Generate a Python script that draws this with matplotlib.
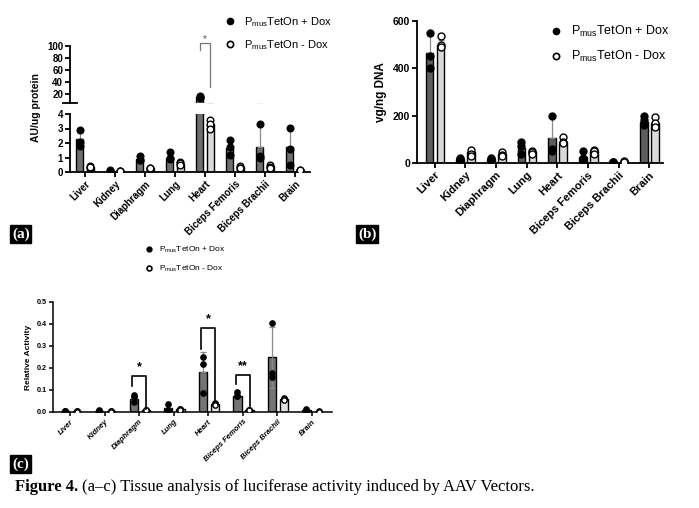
import matplotlib
matplotlib.use('Agg')
import matplotlib.pyplot as plt
import numpy as np
from matplotlib.lines import Line2D

plt.rcParams['font.family'] = ['Liberation Sans', 'DejaVu Sans']
plt.rcParams['mathtext.default'] = 'regular'

tissues = ['Liver', 'Kidney', 'Diaphragm', 'Lung', 'Heart',
           'Biceps Femoris', 'Biceps Brachii', 'Brain']
lab_dox = r'P$_{mus}$TetOn + Dox'
lab_nodox = r'P$_{mus}$TetOn - Dox'

# (a) luciferase, AU/ug protein
a_dox = [2.25, 0.1, 0.9, 1.0, 15.5, 1.65, 1.75, 1.7]
a_dox_err = [0.5, 0.02, 0.15, 0.3, 2.0, 0.5, 1.55, 1.3]
a_dox_pts = [[2.9, 2.05, 1.8], [0.1, 0.08, 0.12], [1.1, 0.85, 0.8], [1.35, 0.95, 0.9],
             [17.0, 15.5, 13.0], [2.2, 1.7, 1.2], [3.3, 1.0, 1.1], [3.05, 1.6, 0.5]]
a_nodox = [0.35, 0.08, 0.25, 0.55, 3.3, 0.35, 0.4, 0.12]
a_nodox_err = [0.05, 0.02, 0.04, 0.1, 0.3, 0.06, 0.08, 0.03]
a_nodox_pts = [[0.4, 0.3, 0.35], [0.1, 0.07, 0.08], [0.3, 0.22, 0.25], [0.7, 0.6, 0.45],
               [3.6, 3.3, 3.0], [0.4, 0.3, 0.3], [0.45, 0.35, 0.3], [0.15, 0.1, 0.12]]

# (b) vector genomes, vg/ng DNA
b_dox = [465, 18, 18, 65, 105, 25, 5, 175]
b_dox_err = [75, 5, 5, 25, 95, 20, 1, 20]
b_dox_pts = [[550, 400, 450], [22, 15, 12], [22, 15, 12], [90, 70, 40],
             [200, 60, 50], [50, 20, 10], [5, 5, 4], [200, 180, 160]]
b_nodox = [500, 45, 38, 45, 90, 50, 5, 170]
b_nodox_err = [20, 12, 10, 5, 15, 8, 3, 20]
b_nodox_pts = [[535, 500, 490], [55, 40, 30], [48, 35, 28], [50, 45, 40],
               [110, 90, 85], [55, 50, 40], [8, 5, 3], [195, 170, 150]]

# (c) relative activity
c_dox = [0.005, 0.006, 0.058, 0.018, 0.183, 0.075, 0.248, 0.008]
c_dox_err = [0.001, 0.001, 0.015, 0.012, 0.088, 0.012, 0.137, 0.004]
c_dox_lo = [0, 0, 0, 0, 0, 0, 0.137, 0]
c_dox_pts = [[0.006, 0.005, 0.004], [0.007, 0.006, 0.005], [0.078, 0.068, 0.045],
             [0.035, 0.01, 0.01], [0.25, 0.22, 0.085], [0.092, 0.075, 0.072],
             [0.405, 0.16, 0.178], [0.012, 0.006, 0.005]]
c_nodox = [0.003, 0.003, 0.008, 0.012, 0.038, 0.008, 0.058, 0.002]
c_nodox_err = [0.001, 0.001, 0.002, 0.003, 0.006, 0.002, 0.006, 0.001]
c_nodox_pts = [[0.003, 0.003, 0.002], [0.003, 0.003, 0.002], [0.01, 0.008, 0.007],
               [0.015, 0.012, 0.01], [0.042, 0.035, 0.03], [0.009, 0.008, 0.007],
               [0.065, 0.06, 0.055], [0.003, 0.002, 0.001]]

W, H = 699, 508
fig = plt.figure(figsize=(W / 100, H / 100), dpi=100)


def px_axes(l, t, r, b):
    return fig.add_axes([l / W, 1 - b / H, (r - l) / W, (b - t) / H])


def draw(ax, means, errs, pts, off, width, color, filled, ms, lo=None, ymin=None):
    x = np.arange(len(means)) + off
    ax.bar(x, means, width, color=color, edgecolor='black', linewidth=1.0, zorder=2)
    lower = lo if lo is not None else [0] * len(means)
    ax.errorbar(x, means, yerr=[lower, errs], fmt='none', ecolor='#8a8a8a',
                elinewidth=0.9, capsize=2, capthick=0.9, zorder=3)
    for xi, p in zip(x, pts):
        p = [v for v in p if ymin is None or v > ymin]
        ax.plot([xi] * len(p), p, 'o', ms=ms, mec='black', mew=1.0,
                mfc='black' if filled else 'white', zorder=4)


def style(ax, fs, lw=1.3):
    for s in ['top', 'right']:
        ax.spines[s].set_visible(False)
    for s in ['left', 'bottom']:
        ax.spines[s].set_linewidth(lw)
    ax.tick_params(width=lw, length=3.5, labelsize=fs, pad=1.5)
    for t in ax.get_yticklabels():
        t.set_fontweight('bold')


def legend(x, y, fs, ms, sp):
    h = [Line2D([], [], ls='none', marker='o', mfc='black', mec='black', ms=ms),
         Line2D([], [], ls='none', marker='o', mfc='white', mec='black', mew=1.2, ms=ms)]
    fig.legend(h, [lab_dox, lab_nodox], loc='upper left', bbox_to_anchor=(x / W, 1 - y / H),
               frameon=False, fontsize=fs, handlelength=0.8, handletextpad=0.8,
               labelspacing=sp, borderpad=0, borderaxespad=0)


dark = '#6f6f6f'
light = '#d9d9d9'
n = len(tissues)

# ---- panel a (broken axis) ----
a_lo = px_axes(70, 114, 310, 172)
a_hi = px_axes(70, 46, 310, 102.7)
for ax, ymin in ((a_lo, None), (a_hi, 7)):
    draw(ax, a_dox, a_dox_err, a_dox_pts, -0.18, 0.23, dark, True, 4.8, ymin=ymin)
    draw(ax, a_nodox, a_nodox_err, a_nodox_pts, 0.18, 0.23, light, False, 4.8, ymin=ymin)
    ax.set_xlim(-0.5, 7.5)
a_lo.set_ylim(0, 4)
a_lo.set_yticks([0, 1, 2, 3, 4])
a_hi.set_ylim(6, 100)
a_hi.set_yticks([20, 40, 60, 80, 100])
style(a_lo, 7)
style(a_hi, 7)
a_hi.spines['bottom'].set_visible(False)
a_hi.set_xticks([])
a_hi.plot([-0.03, 0.03], [0, 0], color='black', lw=1.3, transform=a_hi.transAxes, clip_on=False)
a_lo.set_xticks(range(n))
a_lo.set_xticklabels(tissues, rotation=45, ha='right', rotation_mode='anchor',
                     fontsize=7, fontweight='bold')
# significance bracket on heart
a_hi.plot([4 - 0.17, 4 - 0.17, 4 + 0.17, 4 + 0.17], [93, 105.5, 105.5, 32],
          color='#777777', lw=0.9, clip_on=False, zorder=5)
a_hi.text(4, 104, '*', ha='center', va='bottom', fontsize=7, color='#555555')
fig.text(36 / W, 1 - 108 / H, 'AU/ug protein', rotation=90, ha='center', va='center',
         fontsize=7.5, fontweight='bold')
legend(226, 15, 8, 4.5, 0.85)

# ---- panel b ----
b = px_axes(417, 21, 663, 163)
draw(b, b_dox, b_dox_err, b_dox_pts, -0.17, 0.25, '#5e5e5e', True, 5)
draw(b, b_nodox, b_nodox_err, b_nodox_pts, 0.19, 0.25, light, False, 5)
b.set_xlim(-0.58, 7.45)
b.set_ylim(0, 600)
b.set_yticks([0, 200, 400, 600])
style(b, 7.5)
b.set_xticks(range(n))
b.set_xticklabels(tissues, rotation=45, ha='right', rotation_mode='anchor',
                  fontsize=8, fontweight='bold')
b.set_ylabel('vg/ng DNA', fontsize=8.5, fontweight='bold', labelpad=4)
legend(551, 24, 9, 4.5, 0.8)

# ---- panel c ----
c = px_axes(53, 302, 332, 412)
draw(c, c_dox, c_dox_err, c_dox_pts, -0.16, 0.24, '#747474', True, 3.8, lo=c_dox_lo)
draw(c, c_nodox, c_nodox_err, c_nodox_pts, 0.19, 0.24, '#e2e2e2', False, 3.8)
c.set_xlim(-0.5, 7.58)
c.set_ylim(0, 0.5)
c.set_yticks([0, 0.1, 0.2, 0.3, 0.4, 0.5])
c.set_yticklabels(['0.0', '0.1', '0.2', '0.3', '0.4', '0.5'])
style(c, 5.2, lw=1.1)
c.tick_params(length=3)
c.set_xticks(range(n))
c.set_xticklabels(tissues, rotation=45, ha='right', rotation_mode='anchor',
                  fontsize=5.5, fontweight='bold', fontstyle='italic')
c.set_ylabel('Relative Activity', fontsize=6, fontweight='bold', labelpad=3)
brackets = [(2, 0.12, 0.164, 0.015, '*'), (4, 0.288, 0.382, 0.045, '*'),
            (5, 0.129, 0.17, 0.018, '**')]
for xi, yl, yt, yr, star in brackets:
    c.plot([xi - 0.21, xi - 0.21, xi + 0.2, xi + 0.2], [yl, yt, yt, yr],
           color='black', lw=1.2, zorder=5)
    c.text(xi, yt + 0.012, star, ha='center', va='bottom', fontsize=9, fontweight='bold')
legend(146, 245, 6, 3.5, 1.0)

# panel tags
for x, y, t in [(12, 234, '(a)'), (358, 234, '(b)'), (12, 464, '(c)')]:
    fig.text(x / W, 1 - y / H, t, color='white', fontsize=11, fontweight='bold',
             family='Liberation Serif', va='center', ha='left',
             bbox=dict(facecolor='black', edgecolor='black', boxstyle='square,pad=0.12'))

# caption
t1 = fig.text(15 / W, 1 - 487 / H, 'Figure 4.', fontsize=12, fontweight='bold',
              family='Liberation Serif', va='center', ha='left')
fig.canvas.draw()
bb = t1.get_window_extent()
fig.text((bb.x1 + 4) / W, 1 - 487 / H, '(a\u2013c) Tissue analysis of luciferase activity induced by AAV Vectors.',
         fontsize=12, family='Liberation Serif', va='center', ha='left')

fig.savefig('out.png', dpi=100)
